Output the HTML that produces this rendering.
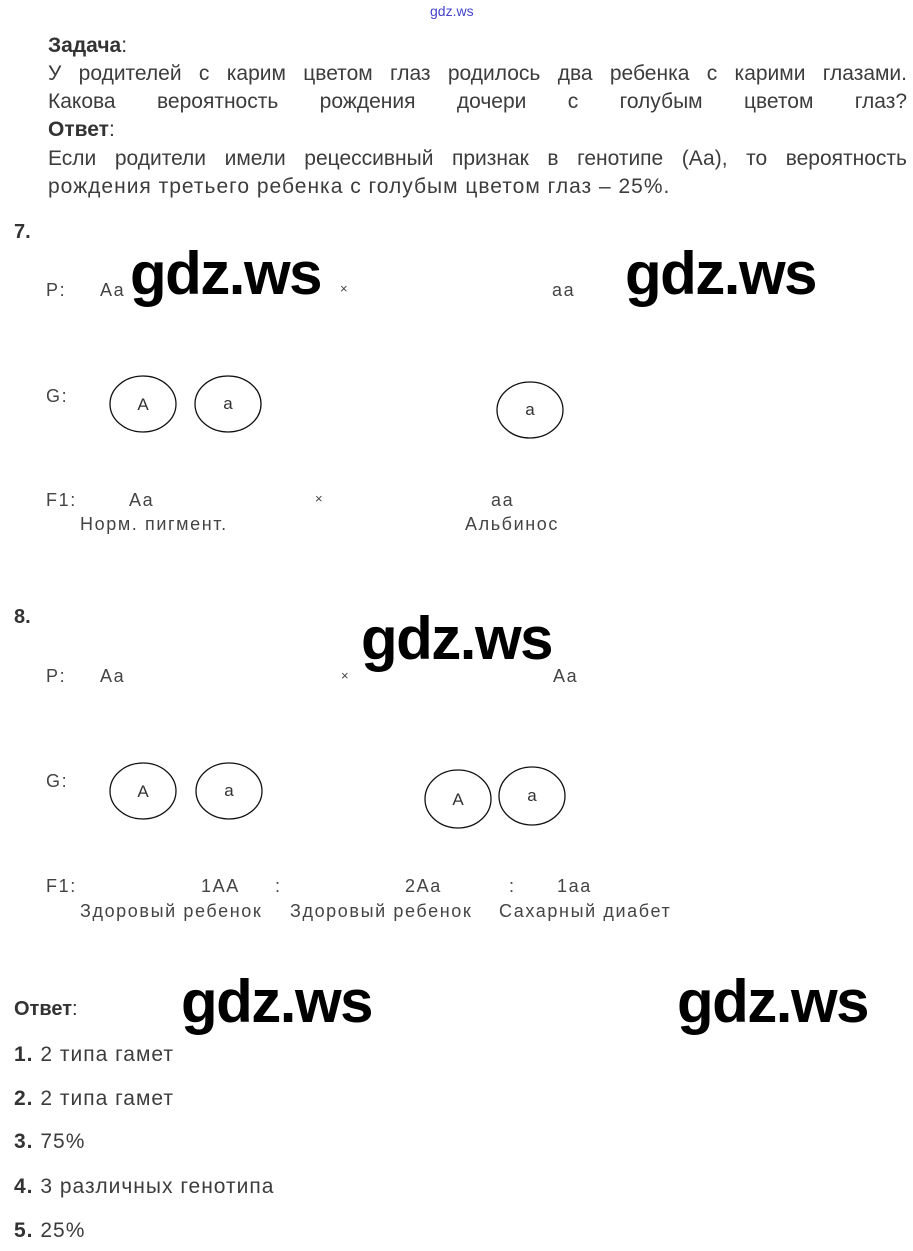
<!DOCTYPE html>
<html><head><meta charset="utf-8"><style>
body{margin:0;background:#fff;}
#p{position:relative;width:913px;height:1251px;overflow:hidden;font-family:"Liberation Sans",sans-serif;}
.t{position:absolute;white-space:nowrap;line-height:1;color:#3a3a3a;}
.m{font-size:21px;color:#3c3c3c;letter-spacing:1px;}
.d{font-size:18px;color:#444;letter-spacing:1.6px;}
.b{font-weight:bold;color:#333;}
.w{position:absolute;font-family:"Liberation Sans",sans-serif;font-weight:bold;font-size:60px;color:#000;line-height:1;white-space:nowrap;letter-spacing:-1.5px;}
.j{position:absolute;left:48px;width:859px;text-align:justify;text-align-last:justify;font-size:21px;color:#3c3c3c;line-height:1;}
</style></head><body><div id="p">
<div class="t" style="left:430px;top:4px;font-size:14px;color:#4444cc;">gdz.ws</div>

<div class="t m b" style="left:48px;top:35px;letter-spacing:0">Задача<span style="font-weight:normal">:</span></div>
<div class="j" style="top:63px;">У родителей с карим цветом глаз родилось два ребенка с карими глазами.</div>
<div class="j" style="top:91px;">Какова вероятность рождения дочери с голубым цветом глаз?</div>
<div class="t m b" style="left:48px;top:119px;letter-spacing:0">Ответ<span style="font-weight:normal">:</span></div>
<div class="j" style="top:148px;">Если родители имели рецессивный признак в генотипе (Аа), то вероятность</div>
<div class="t m" style="left:48px;top:176px;">рождения третьего ребенка с голубым цветом глаз – 25%.</div>

<div class="t b" style="left:14px;top:222px;font-size:20px;">7.</div>
<div class="t d" style="left:46px;top:281px;">P:</div>
<div class="t d" style="left:100px;top:281px;">Aa</div>
<div class="t d" style="left:340px;top:282px;font-size:13px;">×</div>
<div class="t d" style="left:552px;top:281px;">aa</div>
<div class="w" style="left:130px;top:244px;">gdz.ws</div>
<div class="w" style="left:625px;top:244px;">gdz.ws</div>

<div class="t d" style="left:46px;top:387px;">G:</div>
<div class="t d" style="left:46px;top:491px;">F1:</div>
<div class="t d" style="left:129px;top:491px;">Aa</div>
<div class="t d" style="left:315px;top:492px;font-size:13px;">×</div>
<div class="t d" style="left:491px;top:491px;">aa</div>
<div class="t d" style="left:80px;top:515px;">Норм. пигмент.</div>
<div class="t d" style="left:465px;top:515px;">Альбинос</div>

<div class="t b" style="left:14px;top:607px;font-size:20px;">8.</div>
<div class="w" style="left:361px;top:609px;">gdz.ws</div>
<div class="t d" style="left:46px;top:667px;">P:</div>
<div class="t d" style="left:100px;top:667px;">Aa</div>
<div class="t d" style="left:341px;top:669px;font-size:13px;">×</div>
<div class="t d" style="left:553px;top:667px;">Aa</div>
<div class="t d" style="left:46px;top:772px;">G:</div>
<div class="t d" style="left:46px;top:877px;">F1:</div>
<div class="t d" style="left:201px;top:877px;">1AA</div>
<div class="t d" style="left:275px;top:877px;">:</div>
<div class="t d" style="left:405px;top:877px;">2Aa</div>
<div class="t d" style="left:509px;top:877px;">:</div>
<div class="t d" style="left:557px;top:877px;">1aa</div>
<div class="t d" style="left:80px;top:902px;">Здоровый ребенок</div>
<div class="t d" style="left:290px;top:902px;">Здоровый ребенок</div>
<div class="t d" style="left:499px;top:902px;">Сахарный диабет</div>

<div class="t b" style="left:14px;top:999px;font-size:20px;">Ответ<span style="font-weight:normal">:</span></div>
<div class="w" style="left:181px;top:972px;">gdz.ws</div>
<div class="w" style="left:677px;top:972px;">gdz.ws</div>
<div class="t m" style="left:14px;top:1044px;"><b style="color:#333">1.</b> 2 типа гамет</div>
<div class="t m" style="left:14px;top:1088px;"><b style="color:#333">2.</b> 2 типа гамет</div>
<div class="t m" style="left:14px;top:1131px;"><b style="color:#333">3.</b> 75%</div>
<div class="t m" style="left:14px;top:1176px;"><b style="color:#333">4.</b> 3 различных генотипа</div>
<div class="t m" style="left:14px;top:1220px;"><b style="color:#333">5.</b> 25%</div>

<svg width="913" height="1251" style="position:absolute;left:0;top:0" font-family="Liberation Sans, sans-serif" font-size="17" fill="none" stroke="#111" stroke-width="1.3">
<ellipse cx="143" cy="404" rx="33" ry="28"/><ellipse cx="228" cy="404" rx="33" ry="28"/><ellipse cx="530" cy="410" rx="33" ry="28"/>
<ellipse cx="143" cy="791" rx="33" ry="28"/><ellipse cx="229" cy="791" rx="33" ry="28"/><ellipse cx="458" cy="799" rx="33" ry="29"/><ellipse cx="532" cy="796" rx="33" ry="29"/>
<g fill="#333" stroke="none" text-anchor="middle">
<text x="143" y="410">A</text><text x="228" y="409">a</text><text x="530" y="415">a</text>
<text x="143" y="797">A</text><text x="229" y="796">a</text><text x="458" y="805">A</text><text x="532" y="801">a</text>
</g></svg>
</div></body></html>
